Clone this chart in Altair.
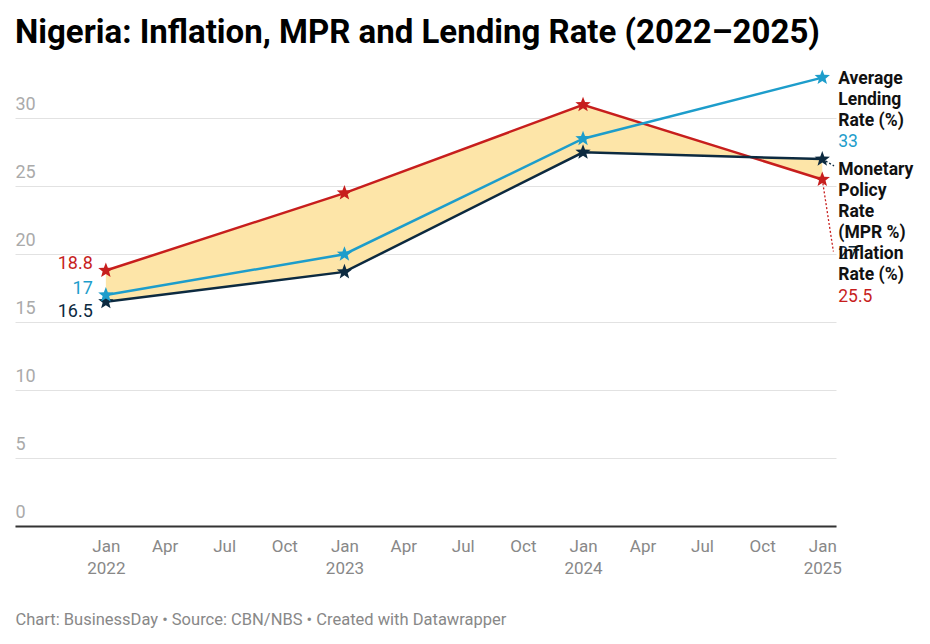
import math
import altair as alt
import pandas as pd

# ---- data -----------------------------------------------------------------
dates = ["2022-01-01", "2023-01-01", "2024-01-01", "2025-01-01"]
inflation = [18.8, 24.5, 31.0, 25.5]
mpr = [16.5, 18.7, 27.5, 27.0]
lending = [17.0, 20.0, 28.5, 33.0]

series_names = ["Inflation Rate (%)", "Monetary Policy Rate (MPR %)", "Average Lending Rate (%)"]
y_ticks = [0, 5, 10, 15, 20, 25, 30]

TITLE = "Nigeria: Inflation, MPR and Lending Rate (2022\u20132025)"
FOOTER = "Chart: BusinessDay \u2022 Source: CBN/NBS \u2022 Created with Datawrapper"

# ---- styling --------------------------------------------------------------
RED = "#c71e1d"
BLUE = "#1d9dcb"
NAVY = "#0c2a40"
FILL = "#fde5a8"
FONT = "Roboto"
COLORS = {series_names[0]: RED, series_names[1]: NAVY, series_names[2]: BLUE}

wide = pd.DataFrame({"date": dates, "inflation": inflation, "mpr": mpr, "lending": lending})
long = pd.concat(
    [
        pd.DataFrame({"date": dates, "value": vals, "series": name})
        for name, vals in zip(series_names, [inflation, mpr, lending])
    ],
    ignore_index=True,
)

# five-pointed star used as point symbol
star_pts = []
for i in range(10):
    r = 1.0 if i % 2 == 0 else 0.42
    a = -math.pi / 2 + i * math.pi / 5
    star_pts.append(f"{r * math.cos(a):.3f},{r * math.sin(a):.3f}")
STAR = "M" + "L".join(star_pts) + "Z"

month_values = [
    alt.DateTime(year=y, month=m, date=1, utc=True)
    for y in (2022, 2023, 2024)
    for m in (1, 4, 7, 10)
] + [alt.DateTime(year=2025, month=1, date=1, utc=True)]

x_scale = alt.Scale(
    type="utc",
    domain=[
        alt.DateTime(year=2021, month=8, date=15, utc=True),
        alt.DateTime(year=2025, month=1, date=22, utc=True),
    ],
)
y_scale = alt.Scale(domain=[0, 34], nice=False)

x_axis = alt.Axis(
    values=month_values,
    labelExpr="utcmonth(datum.value) == 0 ? [utcFormat(datum.value, '%b'), utcFormat(datum.value, '%Y')] : utcFormat(datum.value, '%b')",
    grid=False,
    ticks=False,
    domainColor="#333333",
    domainWidth=2,
    labelColor="#888888",
    labelFont=FONT,
    labelFontSize=17,
    labelLineHeight=22,
    labelPadding=12,
    title=FOOTER,
    titleAnchor="start",
    titleAlign="left",
    titleX=0,
    titleY=98,
    titleBaseline="alphabetic",
    titleColor="#888888",
    titleFont=FONT,
    titleFontSize=16.5,
    titleFontWeight="normal",
)
y_axis = alt.Axis(
    values=y_ticks,
    domain=False,
    ticks=False,
    tickSize=0,
    labelAlign="left",
    labelBaseline="bottom",
    labelPadding=0,
    labelOffset=-5,
    labelColor="#aaaaaa",
    labelFont=FONT,
    labelFontSize=18,
    gridColor="#e2e2e2",
    gridWidth=1,
    title=None,
)

X = alt.X("date:T", scale=x_scale, axis=x_axis)
Y = alt.Y("value:Q", scale=y_scale, axis=y_axis)

# band between inflation and the policy rate
band = alt.Chart(wide).mark_area(color=FILL, opacity=1).encode(
    x=alt.X("date:T", scale=x_scale, axis=x_axis),
    y=alt.Y("inflation:Q", scale=y_scale, axis=y_axis),
    y2="mpr:Q",
)

color = alt.Color(
    "series:N",
    scale=alt.Scale(domain=series_names, range=[COLORS[s] for s in series_names]),
    legend=None,
)

lines = alt.Chart(long).mark_line(strokeWidth=2.5).encode(x=X, y=Y, color=color, detail="series:N")
stars = alt.Chart(long).mark_point(shape=STAR, filled=True, size=260, opacity=1).encode(
    x=X, y=Y, color=color
)


def pick(series, date):
    year = int(date[:4])
    return alt.Chart(long).transform_filter(
        f"datum.series == '{series}' && utcyear(datum.date) == {year}"
    )


# connectors from end points to their labels
def connector(series, days, drop, col):
    return pick(series, dates[-1]).transform_calculate(
        t0="time(datum.date)",
        t1=f"time(datum.date) + {days} * 86400000",
        v1=f"datum.value - {drop}",
    ).mark_rule(color=col, strokeWidth=1.3, strokeDash=[2, 2]).encode(
        x=alt.X("t0:T", scale=x_scale, axis=x_axis),
        x2="t1:T",
        y=Y,
        y2="v1:Q",
    )


conn_infl = connector(series_names[0], 17, 5.3, RED)
conn_mpr = connector(series_names[1], 18, 0.5, NAVY)

# value labels at the start of each line
def start_label(series, dy, col):
    return pick(series, dates[0]).mark_text(
        align="right", baseline="middle", dx=-13, dy=dy, font=FONT, fontSize=18, color=col
    ).encode(x=X, y=Y, text=alt.Text("value:Q", format=".4~g"))


left_labels = [
    start_label(series_names[0], -7, RED),
    start_label(series_names[2], -6, BLUE),
    start_label(series_names[1], 10, NAVY),
]

# series names and final values at the end of each line
def end_name(series, lines_, dy):
    return pick(series, dates[-1]).mark_text(
        text=lines_, align="left", baseline="alphabetic", dx=16, dy=dy,
        lineHeight=21, font=FONT, fontSize=17.5, fontWeight="bold", color="#111111",
    ).encode(x=X, y=Y)


def end_value(series, dy, col):
    return pick(series, dates[-1]).mark_text(
        align="left", baseline="alphabetic", dx=16, dy=dy, font=FONT, fontSize=17.5, color=col
    ).encode(x=X, y=Y, text=alt.Text("value:Q", format=".4~g"))


right_labels = [
    end_name(series_names[2], ["Average", "Lending", "Rate (%)"], 6),
    end_value(series_names[2], 69, BLUE),
    end_name(series_names[1], ["Monetary", "Policy", "Rate", "(MPR %)"], 16),
    end_value(series_names[1], 100, NAVY),
    end_name(series_names[0], ["Inflation", "Rate (%)"], 79),
    end_value(series_names[0], 122, RED),
]

chart = alt.layer(
    band, lines, conn_infl, conn_mpr, stars, *left_labels, *right_labels
).properties(
    width=821,
    height=462,
    autosize=alt.AutoSizeParams(type="none"),
    padding={"left": 15, "top": 64, "right": 94, "bottom": 118},
    background="white",
    title=alt.TitleParams(
        text=TITLE,
        anchor="start",
        frame="group",
        font=FONT,
        fontSize=33,
        fontWeight="bold",
        color="#000000",
        baseline="alphabetic",
        offset=18,
        dy=30,
    ),
).configure_view(stroke=None)

chart.save("out.html", embed_options={"renderer": "svg", "actions": False})
